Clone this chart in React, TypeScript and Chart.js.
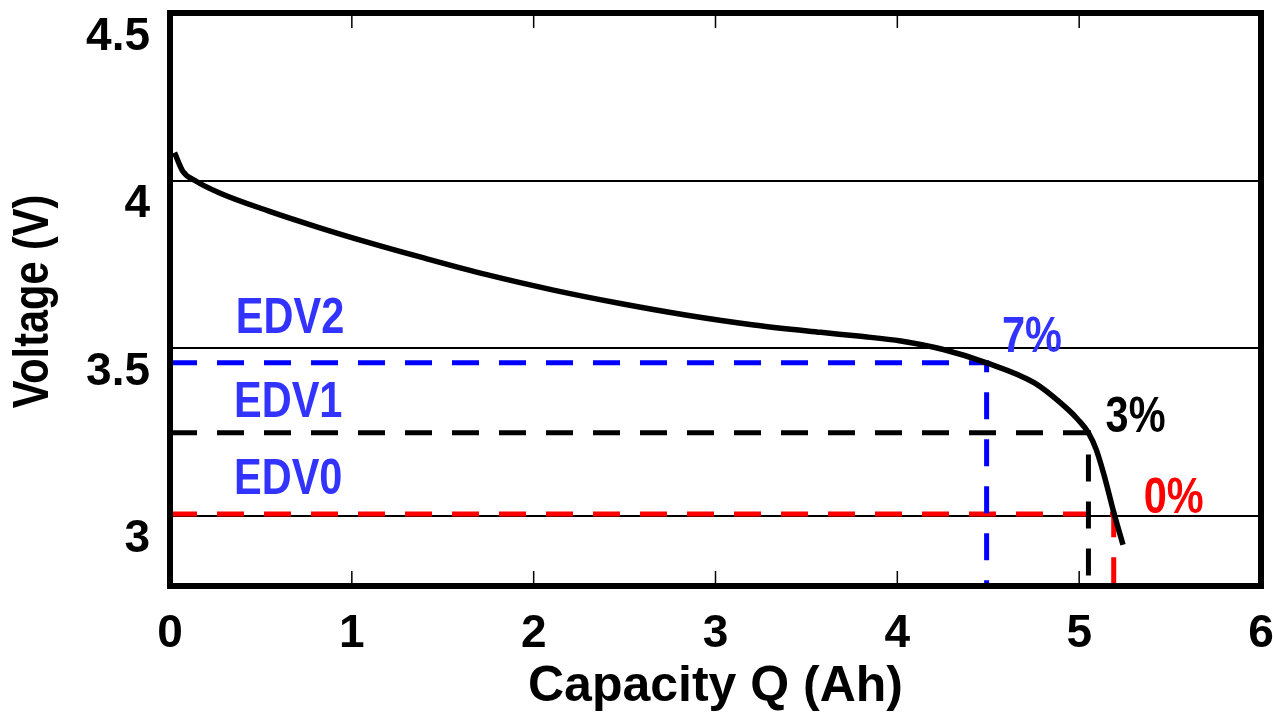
import { useEffect, useRef } from 'react';
import { Chart, registerables } from 'chart.js';

Chart.register(...registerables);

// ---- data ----
const CAPACITY = [0.025, 0.07, 0.144, 0.273, 0.548, 0.824, 1.099, 1.375, 1.742, 2.109, 2.477, 2.844, 3.211, 3.579, 3.8, 4.019, 4.258, 4.491, 4.754, 4.938, 4.993, 5.051, 5.094, 5.139, 5.19, 5.241];
const VOLTAGE = [4.083, 4.028, 3.998, 3.963, 3.908, 3.859, 3.814, 3.772, 3.719, 3.673, 3.633, 3.598, 3.569, 3.547, 3.535, 3.521, 3.495, 3.456, 3.396, 3.317, 3.287, 3.247, 3.197, 3.117, 3.01, 2.913];

const EDV_NAMES = ['EDV2', 'EDV1', 'EDV0'];
const EDV_VOLTAGE = [3.456, 3.247, 3.005];
const EDV_CAPACITY = [4.491, 5.051, 5.19];
const SOC_LABELS = ['7%', '3%', '0%'];

const X_TICKS = [0, 1, 2, 3, 4, 5, 6];
const Y_TICKS = [3, 3.5, 4, 4.5];
const X_MIN = 0;
const X_MAX = 6;
const Y_MIN = 2.79;
const Y_MAX = 4.5;

// ---- styles ----
const FONT = '"Liberation Sans", Arial, sans-serif';
const CONDENSE = 0.83;
const LINE_COLORS = ['#0000ff', '#000000', '#ff0000'];
const NAME_COLOR = '#3333ff';
const SOC_COLORS = ['#3333ff', '#000000', '#ff0000'];
// annotation anchors in data units
const NAME_POS = [[0.66, 3.585], [0.65, 3.334], [0.65, 3.105]];
const SOC_POS = [[4.74, 3.53], [5.31, 3.29], [5.52, 3.05]];

function condensedText(ctx: CanvasRenderingContext2D, text: string, x: number, y: number, rot = 0) {
  ctx.save();
  ctx.translate(x, y);
  if (rot) ctx.rotate(rot);
  ctx.scale(CONDENSE, 1);
  ctx.fillText(text, 0, 0);
  ctx.restore();
}

const framePlugin = {
  id: 'frame',
  afterDatasetsDraw(chart: any) {
    const { ctx, chartArea } = chart;
    const xs = chart.scales.x;
    const ys = chart.scales.y;
    ctx.save();
    // inward tick marks top & bottom
    ctx.strokeStyle = '#000';
    ctx.lineWidth = 1.5;
    X_TICKS.forEach((v) => {
      if (v === X_MIN || v === X_MAX) return;
      const px = xs.getPixelForValue(v);
      ctx.beginPath();
      ctx.moveTo(px, chartArea.bottom);
      ctx.lineTo(px, chartArea.bottom - 15);
      ctx.moveTo(px, chartArea.top);
      ctx.lineTo(px, chartArea.top + 15);
      ctx.stroke();
    });
    // frame
    ctx.lineWidth = 6;
    ctx.strokeRect(chartArea.left, chartArea.top, chartArea.right - chartArea.left, chartArea.bottom - chartArea.top);
    // texts
    ctx.textAlign = 'center';
    ctx.textBaseline = 'middle';
    ctx.font = `bold 50px ${FONT}`;
    EDV_NAMES.forEach((name, i) => {
      ctx.fillStyle = NAME_COLOR;
      condensedText(ctx, name, xs.getPixelForValue(NAME_POS[i][0]), ys.getPixelForValue(NAME_POS[i][1]));
    });
    SOC_LABELS.forEach((s, i) => {
      ctx.fillStyle = SOC_COLORS[i];
      condensedText(ctx, s, xs.getPixelForValue(SOC_POS[i][0]), ys.getPixelForValue(SOC_POS[i][1]));
    });
    // y axis title
    ctx.fillStyle = '#000';
    condensedText(ctx, 'Voltage (V)', 34, (chartArea.top + chartArea.bottom) / 2 + 2, -Math.PI / 2);
    ctx.restore();
  },
};

export default function App() {
  const ref = useRef<HTMLCanvasElement>(null);

  useEffect(() => {
    if (!ref.current) return;
    const curve = {
      data: CAPACITY.map((x, i) => ({ x, y: VOLTAGE[i] })),
      borderColor: '#000',
      borderWidth: 5.5,
      pointRadius: 0,
      cubicInterpolationMode: 'monotone' as const,
      fill: false,
    };
    const dashed = EDV_VOLTAGE.map((v, i) => ({
      data: [
        { x: X_MIN, y: v },
        { x: EDV_CAPACITY[i], y: v },
        { x: EDV_CAPACITY[i], y: Y_MIN },
      ],
      borderColor: LINE_COLORS[i],
      borderWidth: 5,
      borderDash: [27, 20],
      pointRadius: 0,
      tension: 0,
      fill: false,
    }));

    const chart = new Chart(ref.current, {
      type: 'line',
      data: { datasets: [curve, ...dashed] as any },
      plugins: [framePlugin],
      options: {
        animation: false,
        responsive: true,
        maintainAspectRatio: false,
        layout: { padding: { top: 13, right: 12, left: 0, bottom: 0 } },
        plugins: { legend: { display: false }, tooltip: { enabled: false } },
        scales: {
          x: {
            type: 'linear',
            min: X_MIN,
            max: X_MAX,
            afterBuildTicks: (s: any) => {
              s.ticks = X_TICKS.map((v) => ({ value: v }));
            },
            afterFit: (s: any) => {
              s.height = 138;
              s.paddingLeft = 0;
              s.paddingRight = 0;
            },
            grid: { display: false },
            border: { display: false },
            ticks: {
              color: '#000',
              padding: 13,
              maxRotation: 0,
              autoSkip: false,
              font: { family: FONT, size: 46, weight: 'bold' },
              callback: (v: any) => String(v),
            },
            title: {
              display: true,
              text: 'Capacity Q (Ah)',
              color: '#000',
              font: { family: FONT, size: 50, weight: 'bold', lineHeight: 1.2 },
              padding: { top: 0, bottom: 7 },
            },
          },
          y: {
            type: 'linear',
            min: Y_MIN,
            max: Y_MAX,
            afterBuildTicks: (s: any) => {
              s.ticks = Y_TICKS.map((v) => ({ value: v }));
            },
            afterFit: (s: any) => {
              s.width = 170;
              s.paddingTop = 0;
              s.paddingBottom = 0;
            },
            grid: {
              color: (c: any) => (c.tick && c.tick.value === Y_MAX ? 'rgba(0,0,0,0)' : '#000'),
              lineWidth: 2,
              drawTicks: false,
            },
            border: { display: false },
            ticks: {
              color: '#000',
              padding: 20,
              labelOffset: 24,
              autoSkip: false,
              font: { family: FONT, size: 46, weight: 'bold' },
              callback: (v: any) => String(v),
            },
            title: { display: false },
          },
        },
      } as any,
    });
    return () => chart.destroy();
  }, []);

  return (
    <div style={{ position: 'absolute', left: 0, top: 0, width: 1273, height: 724, background: '#fff' }}>
      <canvas ref={ref} />
    </div>
  );
}
